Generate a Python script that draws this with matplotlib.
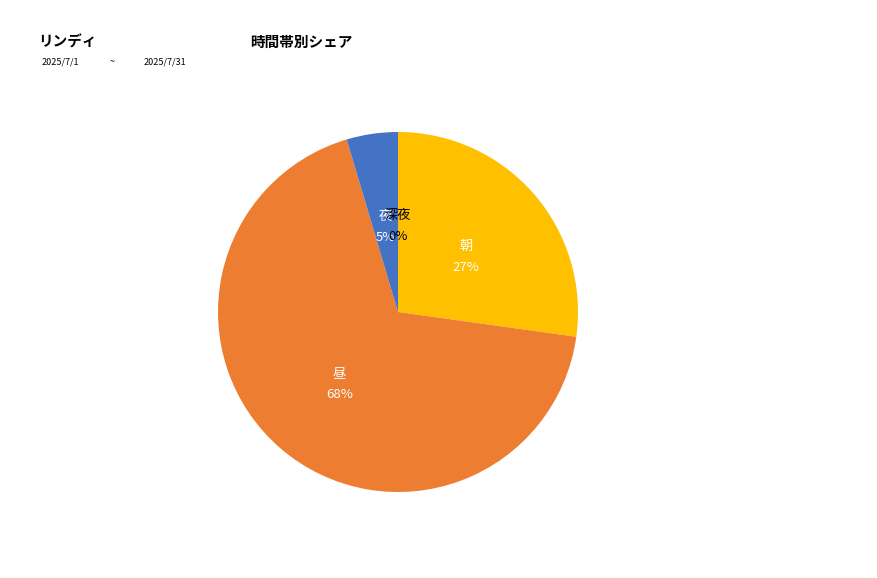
import matplotlib.pyplot as plt

plt.rcParams['font.family'] = ['Noto Sans CJK JP', 'DejaVu Sans']

# slice data (clockwise from 12 o'clock), shares in percent
labels = ['朝', '昼', '夜', '深夜']
shares = [27.2, 68.2, 4.6, 0]
colors = ['#FFC000', '#ED7D31', '#4472C4', '#A5A5A5']
text_colors = ['white', 'white', 'white', 'black']

title = '時間帯別シェア'
store = 'リンディ'
date_from = '2025/7/1'
date_to = '2025/7/31'

W, H = 877, 578
fig = plt.figure(figsize=(W / 100, H / 100), dpi=100)
fig.patch.set_facecolor('white')

cx, cy, r = 398, 312, 180
ax = fig.add_axes([(cx - r) / W, (H - cy - r) / H, 2 * r / W, 2 * r / H])

total = sum(shares)
slice_labels = [f'{l}\n{round(v / total * 100)}%' for l, v in zip(labels, shares)]
wedges, texts = ax.pie(shares, colors=colors, startangle=90, counterclock=False,
                       wedgeprops=dict(linewidth=0),
                       labels=slice_labels, labeldistance=0.5,
                       textprops=dict(fontsize=9.5, ha='center', va='center',
                                      linespacing=1.75))
ax.set_xlim(-1, 1)
ax.set_ylim(-1, 1)
ax.set_aspect('equal')

# labels sit a few pixels lower than the pure radial position
shift = 4 / r
for t, tc in zip(texts, text_colors):
    t.set_color(tc)
    t.set_ha('center')
    x, y = t.get_position()
    t.set_position((x, y - shift))

fig.text(38 / W, 1 - 42 / H, store, fontsize=10.5, fontweight='bold', va='center', ha='left')
fig.text(250 / W, 1 - 42 / H, title, fontsize=10.5, fontweight='bold', va='center', ha='left')
fig.text(42 / W, 1 - 62 / H, date_from, fontsize=6.5, va='center', ha='left')
fig.text(110 / W, 1 - 62 / H, '~', fontsize=6.5, va='center', ha='left')
fig.text(144 / W, 1 - 62 / H, date_to, fontsize=6.5, va='center', ha='left')

fig.savefig('out.png', dpi=100)
